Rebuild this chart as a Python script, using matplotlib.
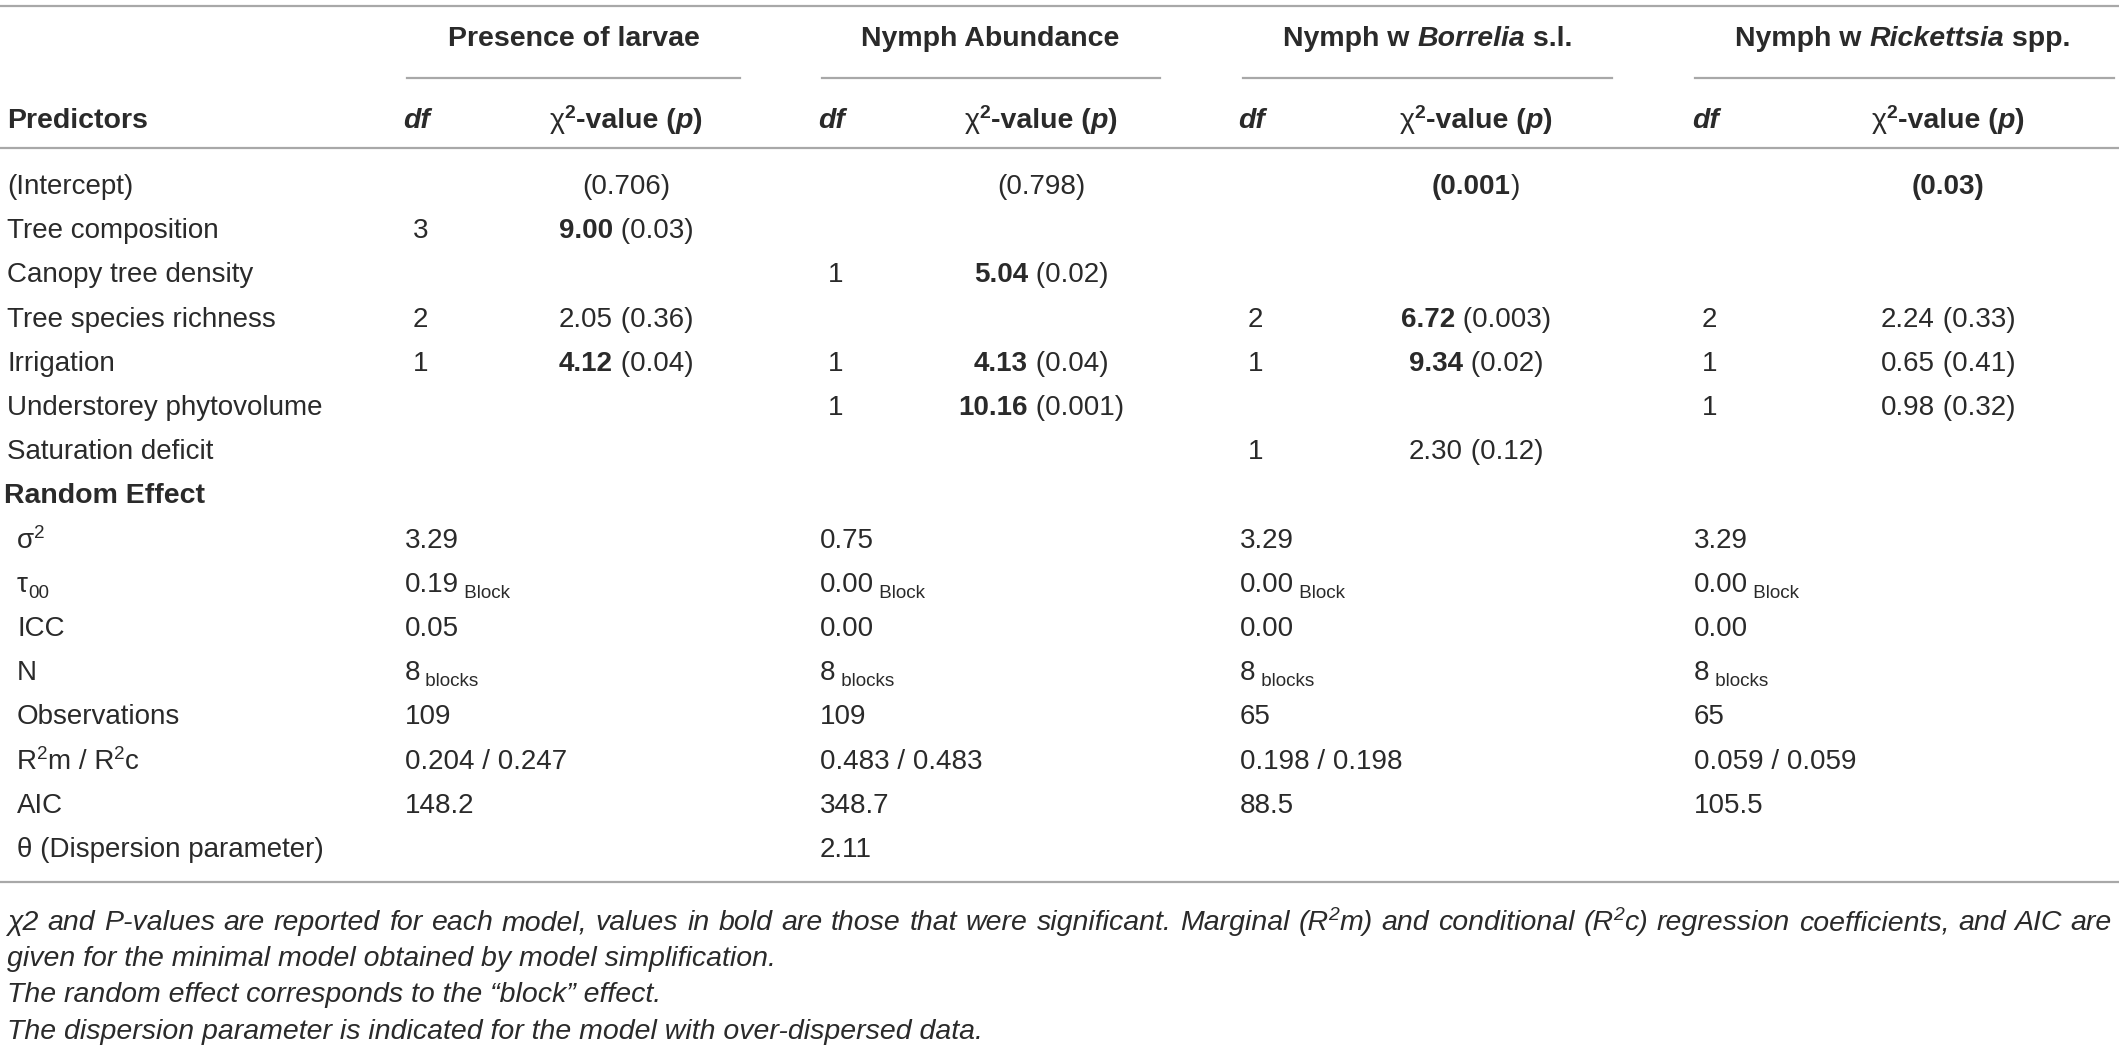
import matplotlib
matplotlib.use("Agg")
import matplotlib.pyplot as plt

# ---- data ----
models = ["Presence of larvae", "Nymph Abundance", "Nymph w Borrelia s.l.", "Nymph w Rickettsia spp."]
predictors = ["(Intercept)", "Tree composition", "Canopy tree density", "Tree species richness",
              "Irrigation", "Understorey phytovolume", "Saturation deficit"]

df_larvae = ["", "3", "", "2", "1", "", ""]
chi_larvae = ["", "9.00", "", "2.05", "4.12", "", ""]
p_larvae = ["0.706", "0.03", "", "0.36", "0.04", "", ""]
sig_larvae = [False, True, False, False, True, False, False]

df_abund = ["", "", "1", "", "1", "1", ""]
chi_abund = ["", "", "5.04", "", "4.13", "10.16", ""]
p_abund = ["0.798", "", "0.02", "", "0.04", "0.001", ""]
sig_abund = [False, False, True, False, True, True, False]

df_borr = ["", "", "", "2", "1", "", "1"]
chi_borr = ["", "", "", "6.72", "9.34", "", "2.30"]
p_borr = ["0.001", "", "", "0.003", "0.02", "", "0.12"]
sig_borr = [True, False, False, True, True, False, False]

df_rick = ["", "", "", "2", "1", "1", ""]
chi_rick = ["", "", "", "2.24", "0.65", "0.98", ""]
p_rick = ["0.03", "", "", "0.33", "0.41", "0.32", ""]
sig_rick = [True, False, False, False, False, False, False]

sigma2 = ["3.29", "0.75", "3.29", "3.29"]
tau00 = ["0.19", "0.00", "0.00", "0.00"]
icc = ["0.05", "0.00", "0.00", "0.00"]
n_blocks = ["8", "8", "8", "8"]
observations = ["109", "109", "65", "65"]
r2m = ["0.204", "0.483", "0.198", "0.059"]
r2c = ["0.247", "0.483", "0.198", "0.059"]
aic = ["148.2", "348.7", "88.5", "105.5"]
theta = ["", "2.11", "", ""]

dfs = [df_larvae, df_abund, df_borr, df_rick]
chis = [chi_larvae, chi_abund, chi_borr, chi_rick]
ps = [p_larvae, p_abund, p_borr, p_rick]
sigs = [sig_larvae, sig_abund, sig_borr, sig_rick]

# ---- layout (pixels) ----
W, H = 2119, 1049
FONT = ["Liberation Sans", "DejaVu Sans"]
FS = 20
FSB = 20.5
FSN = 20.5
TXT = "#2a2a2a"
LINE = "#a8a8a8"

df_x = [403, 818, 1238, 1692]
chi_c = [626, 1041, 1476, 1948]
head_c = [574, 990, 1428, 1903]
spans = [(407, 740), (822, 1160), (1243, 1612), (1695, 2114)]
row0, step = 194, 44.2

fig = plt.figure(figsize=(W / 100, H / 100), dpi=100)
fig.patch.set_facecolor("white")
renderer = fig.canvas.get_renderer()


def line(y, x0=0, x1=W):
    fig.add_artist(plt.Line2D([x0 / W, x1 / W], [1 - y / H, 1 - y / H],
                              color=LINE, lw=1.6, transform=fig.transFigure))


def make(parts, size):
    arts = []
    for text, wt, st, sc, dy in parts:
        t = fig.text(0, 0, text, fontsize=size * sc, fontweight=wt, fontstyle=st,
                     family=FONT, color=TXT, ha="left", va="baseline")
        arts.append((t, t.get_window_extent(renderer).width, dy))
    return arts


def place(arts, x, y):
    for t, w, dy in arts:
        t.set_position((x / W, (H - y + dy) / H))
        x += w
    return x


def runs(x, y, parts, ha="left", size=FS):
    # parts: (text, weight, style, scale, dy)
    arts = make(parts, size)
    total = sum(w for _, w, _ in arts)
    place(arts, x - total / 2 if ha == "center" else x, y)


def justified(x0, x1, y, words, size):
    groups = [make(wd, size) for wd in words]
    widths = [sum(w for _, w, _ in g) for g in groups]
    gap = (x1 - x0 - sum(widths)) / (len(groups) - 1)
    x = x0
    for g, w in zip(groups, widths):
        place(g, x, y)
        x += w + gap


def R(text):
    return (text, "normal", "normal", 1, 0)


def B(text):
    return (text, "bold", "normal", 1, 0)


def BI(text):
    return (text, "bold", "italic", 1, 0)


def SUP(text, wt="normal"):
    return (text, wt, "normal", 0.68, 10)


def SUB(text):
    return (text, "normal", "normal", 0.68, -6)


def NI(text):
    return (text, "normal", "italic", 1, 0)


# rules
line(6)
for a, b in spans:
    line(78, a, b)
line(148)
line(882)

# group headers
model_parts = [
    [B("Presence of larvae")],
    [B("Nymph Abundance")],
    [B("Nymph w "), BI("Borrelia"), B(" s.l.")],
    [B("Nymph w "), BI("Rickettsia"), B(" spp.")],
]
for k in range(4):
    runs(head_c[k], 46, model_parts[k], ha="center", size=FSB)

# column headers
runs(7, 128, [B("Predictors")], size=FSB)
for k in range(4):
    runs(df_x[k], 128, [BI("df")], size=FSB)
    runs(chi_c[k], 128, [("χ", "normal", "normal", 1, 0), SUP("2", "bold"), B("-value ("),
                          BI("p"), B(")")], ha="center", size=FSB)

# predictor rows
for i, name in enumerate(predictors):
    y = row0 + step * i
    runs(7, y, [R(name)])
    for k in range(4):
        if dfs[k][i]:
            runs(df_x[k] + 10, y, [R(dfs[k][i])])
        chi, p, s = chis[k][i], ps[k][i], sigs[k][i]
        if chi:
            parts = [B(chi) if s else R(chi), R(" (" + p + ")")]
            runs(chi_c[k], y, parts, ha="center")
        elif p:
            if s and k == 3:
                parts = [B("(" + p + ")")]
            elif s:
                parts = [B("(" + p), R(")")]
            else:
                parts = [R("(" + p + ")")]
            runs(chi_c[k], y, parts, ha="center")

# random effect block
y = row0 + step * 7
runs(4, y, [B("Random Effect")], size=FSB)

re_labels = [
    [R("σ"), SUP("2")],
    [R("τ"), SUB("00")],
    [R("ICC")],
    [R("N")],
    [R("Observations")],
    [R("R"), SUP("2"), R("m / R"), SUP("2"), R("c")],
    [R("AIC")],
    [R("θ (Dispersion parameter)")],
]
re_values = [
    [[R(v)] for v in sigma2],
    [[R(v), SUB(" Block")] for v in tau00],
    [[R(v)] for v in icc],
    [[R(v), SUB(" blocks")] for v in n_blocks],
    [[R(v)] for v in observations],
    [[R(a + " / " + b)] for a, b in zip(r2m, r2c)],
    [[R(v)] for v in aic],
    [[R(v)] for v in theta],
]
for j, lab in enumerate(re_labels):
    y = row0 + step * (8 + j)
    runs(17, y, lab)
    for k in range(4):
        if re_values[j][k][0][0]:
            runs(df_x[k] + 2, y, re_values[j][k])

# footnotes
ISUP = ("2", "normal", "italic", 0.68, 10)
first = ("χ2 and P-values are reported for each model, values in bold are those that were "
         "significant. Marginal").split()
words = [[NI(w)] for w in first]
words += [[NI("(R"), ISUP, NI("m)")], [NI("and")], [NI("conditional")], [NI("(R"), ISUP, NI("c)")]]
words += [[NI(w)] for w in "regression coefficients, and AIC are".split()]
justified(7, 2112, 930, words, FSN)

notes = [
    "given for the minimal model obtained by model simplification.",
    "The random effect corresponds to the \u201cblock\u201d effect.",
    "The dispersion parameter is indicated for the model with over-dispersed data.",
]
for j, txt in enumerate(notes):
    runs(7, 966 + 36.3 * j, [NI(txt)], size=FSN)

fig.savefig("out.png", dpi=100, facecolor="white")
